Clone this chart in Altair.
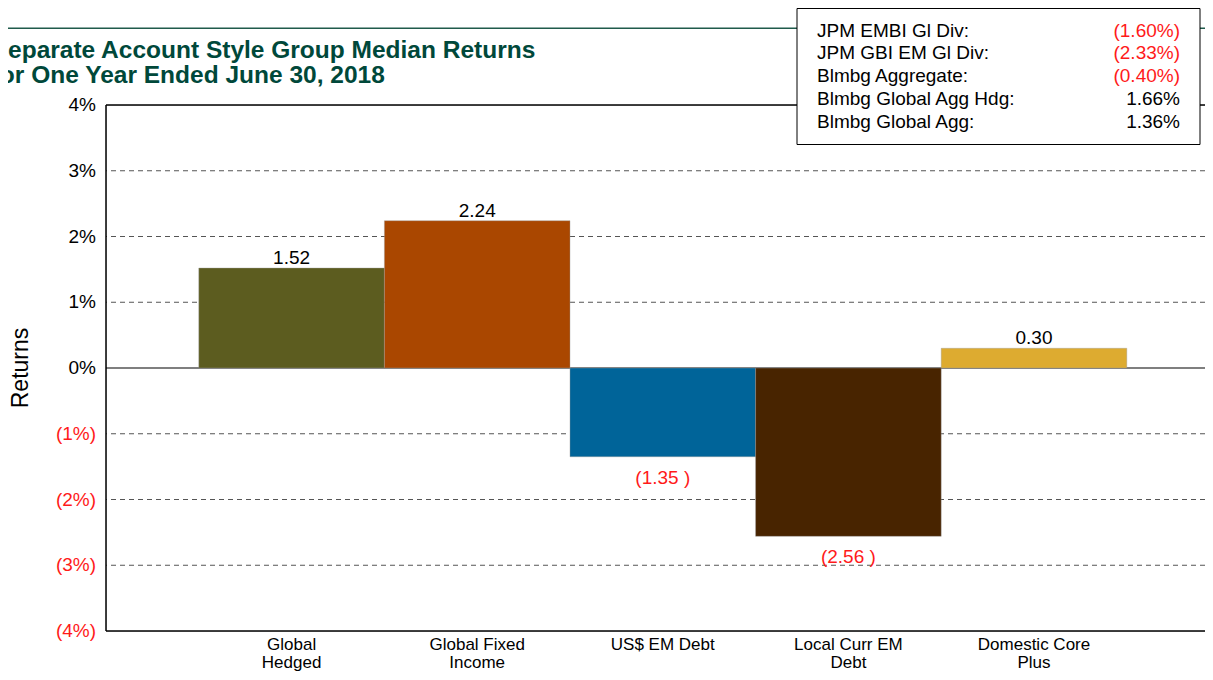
import altair as alt
import pandas as pd

# ---------------- data ----------------
categories = ["Global Hedged", "Global Fixed Income", "US$ EM Debt",
              "Local Curr EM Debt", "Domestic Core Plus"]
cat_labels = ["Global\nHedged", "Global Fixed\nIncome", "US$ EM Debt",
              "Local Curr EM\nDebt", "Domestic Core\nPlus"]
returns = [1.52, 2.24, -1.35, -2.56, 0.30]
bar_colors = ["#5C5C1F", "#AA4700", "#006499", "#482400", "#DDAB30"]

bench_names = ["JPM EMBI Gl Div:", "JPM GBI EM Gl Div:", "Blmbg Aggregate:",
               "Blmbg Global Agg Hdg:", "Blmbg Global Agg:"]
bench_values = [-1.60, -2.33, -0.40, 1.66, 1.36]

y_ticks = [4, 3, 2, 1, 0, -1, -2, -3, -4]
grid_values = [3, 2, 1, -1, -2, -3]
title_lines = ["Separate Account Style Group Median Returns",
               "for One Year Ended June 30, 2018"]
y_title = "Returns"

# ---------------- style ----------------
FONT = "Liberation Sans"
STEP = 185.6            # pixel width of one category band
W, H = 1099, 526
RED = "#FF1A1A"
GREEN = "#00483A"

df = pd.DataFrame({"category": categories, "label": cat_labels,
                   "ret": returns, "color": bar_colors})
df["pos"] = list(range(1, len(df) + 1))
df["x0"] = df["pos"] - 0.5
df["x1"] = df["pos"] + 0.5
df["txt"] = [f"{v:.2f}" if v >= 0 else f"({abs(v):.2f} )" for v in returns]

xscale = alt.Scale(domain=[0, W / STEP], nice=False, zero=False)
yscale = alt.Scale(domain=[-4, 4], nice=False, zero=False)
one = pd.DataFrame({"a": [0]})

grid = alt.Chart(pd.DataFrame({"g": grid_values})).mark_rule(
    color="#555555", strokeDash=[5, 4], strokeWidth=1
).encode(y=alt.Y("g:Q", scale=yscale, axis=None))

ylabels = alt.Chart(pd.DataFrame({"v": y_ticks})).transform_calculate(
    lab="datum.v < 0 ? '(' + abs(datum.v) + '%)' : datum.v + '%'"
).mark_text(font=FONT, fontSize=19, align="right", baseline="middle").encode(
    x=alt.value(-10),
    y=alt.Y("v:Q", scale=yscale, axis=None),
    text="lab:N",
    color=alt.condition("datum.v < 0", alt.value(RED), alt.value("black")),
)

zero = alt.Chart(pd.DataFrame({"z": [0]})).mark_rule(color="black", strokeWidth=1.2).encode(
    y=alt.Y("z:Q", scale=yscale, axis=None)
)

bars = alt.Chart(df).mark_bar(stroke="#9a9a9a", strokeWidth=0.4).encode(
    x=alt.X("x0:Q", scale=xscale, axis=None),
    x2="x1:Q",
    y=alt.Y("ret:Q", scale=yscale, axis=None),
    y2=alt.Y2(datum=0),
    color=alt.Color("color:N", scale=None),
)

pos_lbl = alt.Chart(df).transform_filter("datum.ret >= 0").mark_text(
    font=FONT, fontSize=19, dy=-4, baseline="alphabetic", color="black"
).encode(
    x=alt.X("pos:Q", scale=xscale, axis=None),
    y=alt.Y("ret:Q", scale=yscale, axis=None),
    text="txt:N",
)
neg_lbl = alt.Chart(df).transform_filter("datum.ret < 0").mark_text(
    font=FONT, fontSize=19, dy=27, baseline="alphabetic", color=RED
).encode(
    x=alt.X("pos:Q", scale=xscale, axis=None),
    y=alt.Y("ret:Q", scale=yscale, axis=None),
    text="txt:N",
)

cat_lbl = alt.Chart(df).mark_text(
    font=FONT, fontSize=17, baseline="alphabetic", lineBreak="\n", lineHeight=18,
    color="black"
).encode(
    x=alt.X("pos:Q", scale=xscale, axis=None),
    y=alt.value(545),
    text="label:N",
)

# plot border (left, top, bottom)
border_l = alt.Chart(one).mark_rule(color="black", strokeWidth=1.5).encode(
    x=alt.value(0), y=alt.value(0), y2=alt.value(H))
border_t = alt.Chart(one).mark_rule(color="black", strokeWidth=1.5).encode(
    x=alt.value(0), x2=alt.value(W), y=alt.value(0))
border_b = alt.Chart(one).mark_rule(color="black", strokeWidth=1.5).encode(
    x=alt.value(0), x2=alt.value(W), y=alt.value(H))

ytitle = alt.Chart(one).mark_text(
    font=FONT, fontSize=23, angle=270, align="center", baseline="middle", color="black"
).encode(x=alt.value(-85), y=alt.value(H / 2), text=alt.value(y_title))

green_line = alt.Chart(one).mark_rule(color="#1F5A4B", strokeWidth=1.5).encode(
    x=alt.value(-106), x2=alt.value(W), y=alt.value(-76.7))

title1 = alt.Chart(one).mark_text(
    font=FONT, fontSize=24.5, fontWeight="bold", align="left", baseline="alphabetic",
    color=GREEN
).encode(x=alt.value(-114.3), y=alt.value(-47), text=alt.value(title_lines[0]))
title2 = alt.Chart(one).mark_text(
    font=FONT, fontSize=24.5, fontWeight="bold", align="left", baseline="alphabetic",
    color=GREEN
).encode(x=alt.value(-114.3), y=alt.value(-22), text=alt.value(title_lines[1]))

legend_box = alt.Chart(one).mark_rect(fill="white", stroke="black", strokeWidth=1).encode(
    x=alt.value(691), x2=alt.value(1094), y=alt.value(-96.5), y2=alt.value(39.5))

legend_layers = []
for i, (nm, val) in enumerate(zip(bench_names, bench_values)):
    yy = -68.5 + i * 22.8
    vtxt = f"({abs(val):.2f}%)" if val < 0 else f"{val:.2f}%"
    bdf = pd.DataFrame({"name": [nm], "val": [vtxt]})
    legend_layers.append(alt.Chart(bdf).mark_text(
        font=FONT, fontSize=19, align="left", baseline="alphabetic", color="black"
    ).encode(x=alt.value(711), y=alt.value(yy), text="name:N"))
    legend_layers.append(alt.Chart(bdf).mark_text(
        font=FONT, fontSize=19, align="right", baseline="alphabetic",
        color=RED if val < 0 else "black"
    ).encode(x=alt.value(1074), y=alt.value(yy), text="val:N"))

chart = alt.layer(
    grid, zero, bars, pos_lbl, neg_lbl, cat_lbl, ylabels,
    border_l, border_t, border_b, ytitle, green_line, title1, title2,
    legend_box, *legend_layers
).properties(
    width=W, height=H,
    autosize=alt.AutoSizeParams(type="none"),
    padding={"left": 98, "top": 97, "right": 0, "bottom": 41},
).configure_view(
    fill="#E6E6E6", stroke=None
).configure(background="white")

chart.save("out.html", embed_options={"renderer": "svg", "actions": False})
